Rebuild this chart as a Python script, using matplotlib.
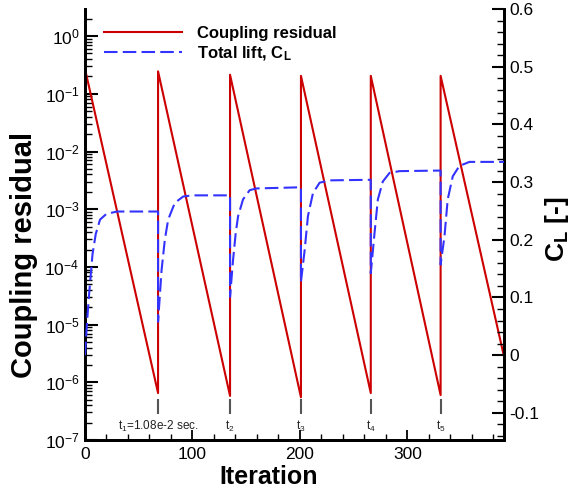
import matplotlib
matplotlib.use("Agg")
import matplotlib.pyplot as plt
from matplotlib.ticker import MultipleLocator, LogLocator, FuncFormatter, NullFormatter
from matplotlib.lines import Line2D

plt.rcParams['font.family'] = ['Liberation Sans', 'DejaVu Sans']
plt.rcParams['mathtext.fontset'] = 'custom'
plt.rcParams['mathtext.rm'] = 'Liberation Sans'
plt.rcParams['mathtext.it'] = 'Liberation Sans:italic'
plt.rcParams['mathtext.bf'] = 'Liberation Sans:bold'

# ---- data ----
jump_iter = [68, 135, 201, 266, 331]
end_iter = 390
res_peak = [0.27, 0.245, 0.214, 0.205, 0.205, 0.205]
res_dip = [6.5e-7, 5.8e-7, 5.5e-7, 6.5e-7, 6.0e-7]
res_end = 2.8e-6

cl_iter = [0, 1, 2, 4, 7, 10, 14, 20, 30, 68,
           68, 71.3, 74.3, 77.4, 83.6, 91.4, 100, 135,
           135, 137.8, 140.3, 142.5, 147.1, 153.3, 159.6, 201,
           201, 204.5, 207.5, 212.2, 218.4, 227.7, 266,
           266, 269.5, 272.6, 277.2, 283.5, 292.8, 331,
           331, 334.6, 337.6, 342.3, 348.5, 357.8, 390]
cl_value = [0.0, 0.03, 0.06, 0.11, 0.175, 0.21, 0.235, 0.245, 0.249, 0.249,
            0.058, 0.148, 0.200, 0.235, 0.264, 0.275, 0.277, 0.277,
            0.101, 0.165, 0.212, 0.241, 0.270, 0.286, 0.289, 0.291,
            0.127, 0.183, 0.241, 0.281, 0.299, 0.303, 0.304,
            0.142, 0.212, 0.270, 0.301, 0.316, 0.319, 0.320,
            0.157, 0.206, 0.270, 0.310, 0.328, 0.335, 0.335]

step_labels = ['t$_1$=1.08e-2 sec.', 't$_2$', 't$_3$', 't$_4$', 't$_5$']

# residual polyline
res_x = [0]
res_y = [res_peak[0]]
for i, j in enumerate(jump_iter):
    res_x += [j, j]
    res_y += [res_dip[i], res_peak[i + 1]]
res_x.append(end_iter)
res_y.append(res_end)

red = '#cc0000'
blue = '#3333ff'

fig = plt.figure(figsize=(5.71, 4.96), dpi=100)
ax = fig.add_axes([85/571, 56/496, 419/571, 431/496])
ax2 = ax.twinx()

ax.plot(res_x, res_y, color=red, lw=1.5, zorder=3)
ax.set_yscale('log')
ax.set_ylim(1e-7, 10**0.47)
ax.set_xlim(0, end_iter)

# time-step markers
ax.vlines(jump_iter, 2.8e-7, 5.2e-7, colors='#555555', lw=1.5)
for j, lab in zip(jump_iter, step_labels):
    ax.text(j, 1.7e-7, lab, ha='center', va='center', fontsize=8.5, color='#222222')

ax2.plot(cl_iter, cl_value, color=blue, lw=1.5, dashes=(6.5, 2.5), zorder=4)
ax2.set_ylim(-0.147, 0.6)

# spines
for a in (ax, ax2):
    a.spines['top'].set_visible(False)
    for s in ('left', 'right', 'bottom'):
        a.spines[s].set_linewidth(2.0)

# ticks
ax.xaxis.set_major_locator(MultipleLocator(100))
ax.xaxis.set_minor_locator(MultipleLocator(20))
ax.yaxis.set_major_locator(LogLocator(base=10, numticks=20))
ax.yaxis.set_minor_locator(LogLocator(base=10, subs=range(2, 10), numticks=100))
ax.yaxis.set_minor_formatter(NullFormatter())
ax.tick_params(axis='x', which='major', direction='in', length=7, width=1.3,
               labelsize=12.5, pad=5, top=False)
ax.tick_params(axis='x', which='minor', direction='in', length=4, width=1.0, top=False)
ax.tick_params(axis='y', which='major', direction='in', length=9, width=1.5,
               labelsize=12.5, pad=4, right=False)
ax.tick_params(axis='y', which='minor', direction='in', length=5, width=1.0, right=False)

ax2.yaxis.set_major_locator(MultipleLocator(0.1))
ax2.yaxis.set_minor_locator(MultipleLocator(0.02))
ax2.yaxis.set_major_formatter(FuncFormatter(lambda v, p: '%g' % round(v, 3)))
ax2.tick_params(axis='y', which='major', direction='in', length=9, width=1.5,
                labelsize=12.5, pad=4)
ax2.tick_params(axis='y', which='minor', direction='in', length=5, width=1.0)

# labels
ax.set_xlabel('Iteration', fontsize=18, fontweight='bold')
ax.xaxis.set_label_coords(0.439, -0.058)
ax.set_ylabel('Coupling residual', fontsize=21, fontweight='bold')
ax.yaxis.set_label_coords(-0.113, 0.43)
ax2.set_ylabel('C$_\\mathbf{L}$ [-]', fontsize=19, fontweight='bold')
ax2.yaxis.set_label_coords(1.093, 0.49)

handles = [Line2D([], [], color=red, lw=1.5),
           Line2D([], [], color=blue, lw=1.5, dashes=(6.5, 2.5))]
labels = ['Coupling residual', 'Total lift, C$_\\mathbf{L}$']
leg = ax2.legend(handles, labels, loc='upper left', bbox_to_anchor=(104/571, 1 - 26/496),
                 bbox_transform=fig.transFigure, frameon=False,
                 prop={'weight': 'bold', 'size': 12}, handlelength=4.7,
                 handletextpad=0.9, labelspacing=0.2, borderaxespad=0, borderpad=0)

fig.savefig('out.png', dpi=100)
